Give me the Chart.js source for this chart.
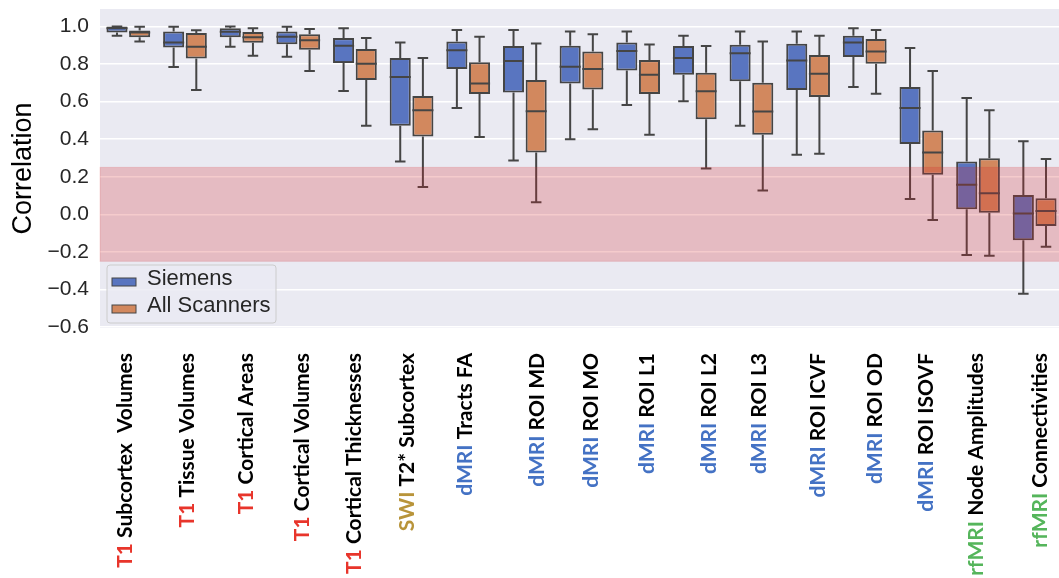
<!DOCTYPE html>
<html>
<head>
<meta charset="utf-8">
<script src="https://cdn.jsdelivr.net/npm/chart.js@4.4.1/dist/chart.umd.min.js"></script>
<style>
    html, body { margin: 0; padding: 0; background: #ffffff; overflow: hidden; }
    #wrap { width: 1063px; height: 578px; position: relative; }
</style>
</head>
<body>
<div id="wrap"><canvas id="boxChart"></canvas></div>
<script>
// ========== DATA ==========
const modality = ['T1', 'T1', 'T1', 'T1', 'T1', 'SWI', 'dMRI', 'dMRI', 'dMRI', 'dMRI',
    'dMRI', 'dMRI', 'dMRI', 'dMRI', 'dMRI', 'rfMRI', 'rfMRI'];
const measure = ['Subcortex  Volumes', 'Tissue Volumes', 'Cortical Areas', 'Cortical Volumes',
    'Cortical Thicknesses', 'T2* Subcortex', 'Tracts FA', 'ROI MD', 'ROI MO', 'ROI L1',
    'ROI L2', 'ROI L3', 'ROI ICVF', 'ROI OD', 'ROI ISOVF', 'Node Amplitudes', 'Connectivities'];

// Siemens
const siemensMin = [0.950, 0.784, 0.892, 0.839, 0.657, 0.281, 0.566, 0.287, 0.400, 0.582, 0.602, 0.471, 0.317, 0.678, 0.081, -0.216, -0.423];
const siemensQ1  = [0.968, 0.888, 0.943, 0.906, 0.805, 0.471, 0.773, 0.648, 0.696, 0.766, 0.743, 0.708, 0.662, 0.837, 0.375, 0.027, -0.138];
const siemensMed = [0.990, 0.915, 0.972, 0.945, 0.897, 0.731, 0.874, 0.816, 0.786, 0.869, 0.832, 0.857, 0.819, 0.915, 0.566, 0.158, 0.004];
const siemensQ3  = [1.000, 0.973, 0.991, 0.973, 0.938, 0.832, 0.920, 0.896, 0.897, 0.915, 0.896, 0.903, 0.908, 0.950, 0.678, 0.281, 0.103];
const siemensMax = [1.000, 0.998, 1.000, 0.998, 0.991, 0.915, 0.981, 0.981, 0.973, 0.973, 0.950, 0.973, 0.973, 0.991, 0.885, 0.619, 0.389];

// All scanners
const allMin = [0.920, 0.662, 0.844, 0.763, 0.471, 0.145, 0.412, 0.064, 0.453, 0.423, 0.244, 0.127, 0.322, 0.642, -0.030, -0.221, -0.173];
const allQ1  = [0.943, 0.830, 0.913, 0.876, 0.715, 0.414, 0.641, 0.329, 0.665, 0.641, 0.506, 0.423, 0.625, 0.802, 0.211, 0.009, -0.062];
const allMed = [0.968, 0.892, 0.942, 0.927, 0.802, 0.554, 0.697, 0.549, 0.773, 0.743, 0.655, 0.547, 0.749, 0.867, 0.329, 0.112, 0.018];
const allQ3  = [0.979, 0.965, 0.970, 0.959, 0.880, 0.630, 0.809, 0.715, 0.867, 0.821, 0.754, 0.701, 0.848, 0.933, 0.446, 0.299, 0.085];
const allMax = [0.998, 0.980, 0.991, 0.986, 0.938, 0.832, 0.945, 0.910, 0.958, 0.904, 0.896, 0.920, 0.950, 0.981, 0.763, 0.554, 0.294];

const yTicks = [-0.6, -0.4, -0.2, 0.0, 0.2, 0.4, 0.6, 0.8, 1.0];
const bandLow = -0.25;   // shaded "poor reliability" band
const bandHigh = 0.25;
// ==========================

const categories = modality.map((m, i) => m + ' ' + measure[i]);

const modalityColors = { T1: '#e8352b', SWI: '#b8943a', dMRI: '#4472c4', rfMRI: '#55b55b' };
// small nudges so the pasted-in labels sit where they do in the figure
const labelNudge = [-3, 2, 5, 4, -1, -4, -3, 12, 10, 9, 14, 8, 10, 10, 5, -2, 6];

const stats = [
    { min: siemensMin, q1: siemensQ1, med: siemensMed, q3: siemensQ3, max: siemensMax },
    { min: allMin, q1: allQ1, med: allMed, q3: allQ3, max: allMax }
];

const EDGE = '#454545';

const boxPlugin = {
    id: 'boxExtras',
    beforeDraw(chart) {
        const { ctx, chartArea: a } = chart;
        ctx.save();
        ctx.fillStyle = '#eaeaf2';
        ctx.fillRect(a.left, a.top, a.right - a.left, a.bottom - a.top);
        ctx.restore();
    },
    afterDatasetsDraw(chart) {
        const { ctx, chartArea: a } = chart;
        const y = chart.scales.y;

        // whiskers, caps and medians
        ctx.save();
        ctx.strokeStyle = EDGE;
        ctx.lineWidth = 2;
        stats.forEach((s, d) => {
            chart.getDatasetMeta(d).data.forEach((bar, i) => {
                const x = bar.x;
                const w = bar.width;
                const cap = w / 4;
                const yMin = y.getPixelForValue(s.min[i]);
                const yQ1 = y.getPixelForValue(s.q1[i]);
                const yQ3 = y.getPixelForValue(s.q3[i]);
                const yMax = y.getPixelForValue(s.max[i]);
                const yMed = y.getPixelForValue(s.med[i]);
                ctx.beginPath();
                ctx.moveTo(x, yQ3); ctx.lineTo(x, yMax);
                ctx.moveTo(x, yQ1); ctx.lineTo(x, yMin);
                ctx.moveTo(x - cap, yMax); ctx.lineTo(x + cap, yMax);
                ctx.moveTo(x - cap, yMin); ctx.lineTo(x + cap, yMin);
                ctx.moveTo(x - w / 2, yMed); ctx.lineTo(x + w / 2, yMed);
                ctx.stroke();
            });
        });
        ctx.restore();

        // red band on top of everything in the plot
        const yTop = y.getPixelForValue(bandHigh);
        const yBot = y.getPixelForValue(bandLow);
        ctx.save();
        ctx.fillStyle = 'rgba(214, 39, 40, 0.24)';
        ctx.fillRect(a.left, yTop, a.right - a.left, yBot - yTop);
        ctx.strokeStyle = 'rgba(214, 39, 40, 0.15)';
        ctx.lineWidth = 1;
        ctx.strokeRect(a.left, yTop, a.right - a.left, yBot - yTop);
        ctx.restore();
    },
    afterDraw(chart) {
        const { ctx, chartArea: a } = chart;
        const xs = chart.scales.x;

        // legend inside lower-left corner
        const lx = a.left + 7, ly = a.bottom - 63, lw = 169, lh = 58;
        ctx.save();
        ctx.beginPath();
        ctx.roundRect(lx, ly, lw, lh, 3);
        ctx.fillStyle = 'rgba(234, 234, 242, 0.8)';
        ctx.fill();
        ctx.strokeStyle = '#cccccc';
        ctx.lineWidth = 1;
        ctx.stroke();
        ctx.font = '22px "Liberation Sans", Arial, sans-serif';
        ctx.textBaseline = 'alphabetic';
        chart.data.datasets.forEach((ds, k) => {
            const py = ly + 13 + k * 27;
            ctx.fillStyle = ds.backgroundColor;
            ctx.fillRect(lx + 5, py, 24, 8);
            ctx.strokeStyle = EDGE;
            ctx.lineWidth = 1;
            ctx.strokeRect(lx + 5, py, 24, 8);
            ctx.fillStyle = '#262626';
            ctx.fillText(ds.label, lx + 40, py + 7);
        });
        ctx.restore();

        // rotated two-colour category labels
        ctx.save();
        ctx.font = 'bold 21px Lato, "Open Sans", sans-serif';
        ctx.textBaseline = 'middle';
        ctx.textAlign = 'left';
        modality.forEach((m, i) => {
            const x = xs.getPixelForValue(i) + labelNudge[i];
            const head = m + ' ';
            const wHead = ctx.measureText(head).width;
            const wRest = ctx.measureText(measure[i]).width;
            ctx.save();
            ctx.translate(x, a.bottom + 25);
            ctx.rotate(-Math.PI / 2);
            const start = -(wHead + wRest);
            ctx.fillStyle = modalityColors[m];
            ctx.fillText(head, start, 0);
            ctx.fillStyle = '#000000';
            ctx.fillText(measure[i], start + wHead, 0);
            ctx.restore();
        });
        ctx.restore();
    }
};

const ctx = document.getElementById('boxChart').getContext('2d');
new Chart(ctx, {
    type: 'bar',
    data: {
        labels: categories,
        datasets: [
            {
                label: 'Siemens',
                data: siemensQ1.map((v, i) => [v, siemensQ3[i]]),
                backgroundColor: '#5975c0',
                borderColor: EDGE,
                borderWidth: 2,
                borderSkipped: false
            },
            {
                label: 'All Scanners',
                data: allQ1.map((v, i) => [v, allQ3[i]]),
                backgroundColor: '#d2885e',
                borderColor: EDGE,
                borderWidth: 2,
                borderSkipped: false
            }
        ]
    },
    options: {
        responsive: true,
        maintainAspectRatio: false,
        animation: false,
        categoryPercentage: 0.8,
        barPercentage: 0.93,
        layout: { padding: { top: 9, right: 0, bottom: 250, left: 0 } },
        plugins: {
            legend: { display: false },
            tooltip: { enabled: false }
        },
        scales: {
            x: {
                ticks: { display: false },
                grid: { display: false, drawTicks: false },
                border: { display: false },
                afterFit: (s) => { s.height = 0; }
            },
            y: {
                min: -0.605,
                max: 1.093,
                afterBuildTicks: (s) => { s.ticks = yTicks.map(v => ({ value: v })); },
                afterFit: (s) => { s.width = 100; s.paddingTop = 0; s.paddingBottom = 0; },
                ticks: {
                    padding: 11,
                    color: '#262626',
                    font: { family: '"Liberation Sans", Arial, sans-serif', size: 21 },
                    callback: (v) => (v < 0 ? '\u2212' : '') + Math.abs(v).toFixed(1)
                },
                grid: { color: '#ffffff', lineWidth: 1.5, drawTicks: false },
                border: { display: false },
                title: {
                    display: true,
                    text: 'Correlation',
                    color: '#000000',
                    font: { family: '"Liberation Sans", Arial, sans-serif', size: 27 },
                    padding: { top: 7, bottom: 0 }
                }
            }
        }
    },
    plugins: [boxPlugin]
});
</script>
</body>
</html>
